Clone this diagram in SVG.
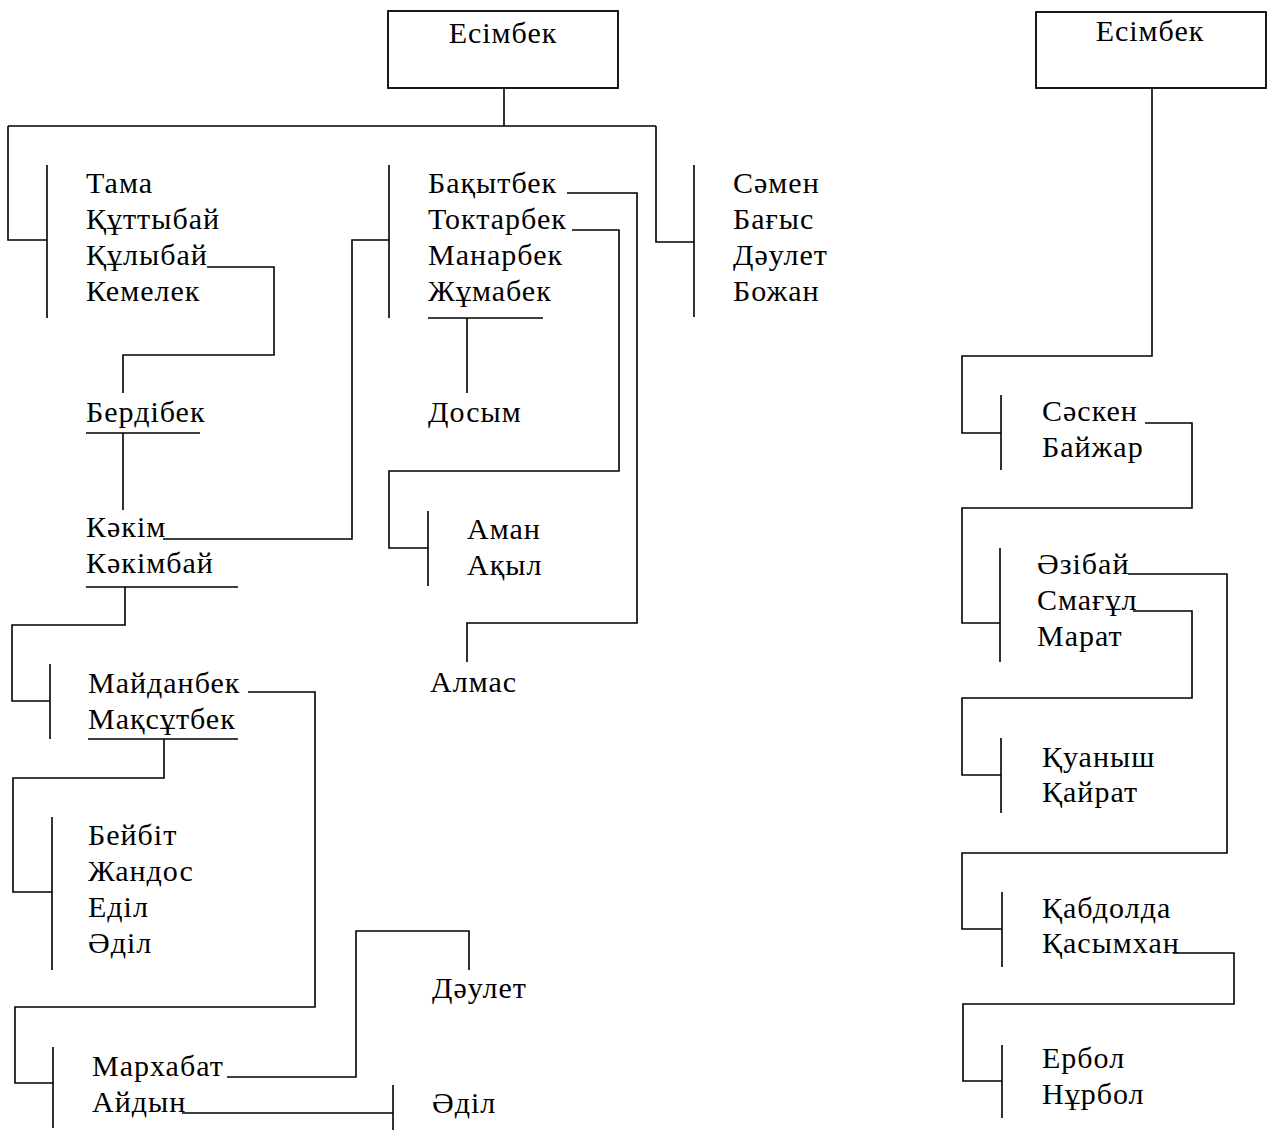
<svg xmlns="http://www.w3.org/2000/svg" width="1271" height="1130" viewBox="0 0 1271 1130">
<style>
text{font-family:"Liberation Serif","Times New Roman",serif;font-size:30px;letter-spacing:1px;fill:#000}
.c{text-anchor:middle}
.ln{fill:none;stroke:#000;stroke-width:1.6}
.bx{fill:#fff;stroke:#000;stroke-width:1.8}
</style>
<rect width="1271" height="1130" fill="#fff"/>
<g id="connectors" class="ln">
<path d="M504,88V126M8,126H656"/>
<path d="M8,126V240H47M47,165V318"/>
<path d="M389,165V318M389,240H352V539H163"/>
<path d="M656,126V242H694M694,165V317"/>
<path d="M207,267H274V355H123V393"/>
<path d="M86,433H200M123,433V510"/>
<path d="M86,587H238M125,587V625H12V701H50M50,664V739"/>
<path d="M248,692H315V1007H15V1083H53M53,1047V1128"/>
<path d="M88,739H238M164,739V778H13V892H52M52,817V970"/>
<path d="M567,193H637V623H467V662"/>
<path d="M572,230H619V471H389V548H428M428,511V586"/>
<path d="M428,318H543M467,318V393"/>
<path d="M227,1077H356V931H469V970"/>
<path d="M182,1113H393M393,1085V1130"/>
<path d="M1152,88V356H962V433H1001M1001,395V470"/>
<path d="M1145,423H1192V508H962V623H1000M1000,548V662"/>
<path d="M1128,574H1227V853H962V929H1002M1002,892V967"/>
<path d="M1133,611H1192V698H962V775H1001M1001,738V813"/>
<path d="M1173,953H1234V1004H963V1081H1002M1002,1045V1118"/>
</g>
<g id="root-left"><rect class="bx" x="388" y="11" width="230" height="77"/><text class="c" x="503" y="43">Есімбек</text></g>
<g id="root-right"><rect class="bx" x="1036" y="12" width="230" height="76"/><text class="c" x="1150" y="41">Есімбек</text></g>
<g id="g-tama"><text x="86" y="193">Тама</text><text x="86" y="229">Құттыбай</text><text x="86" y="265">Құлыбай</text><text x="86" y="301">Кемелек</text></g>
<g id="g-bakytbek"><text x="428" y="193">Бақытбек</text><text x="428" y="229">Токтарбек</text><text x="428" y="265">Манарбек</text><text x="428" y="301">Жұмабек</text></g>
<g id="g-samen"><text x="733" y="193">Сәмен</text><text x="733" y="229">Бағыс</text><text x="733" y="265">Дәулет</text><text x="733" y="301">Божан</text></g>
<g id="n-berdibek"><text x="86" y="422">Бердібек</text></g>
<g id="n-dosym"><text x="428" y="422">Досым</text></g>
<g id="g-kakim"><text x="86" y="537">Кәкім</text><text x="86" y="573">Кәкімбай</text></g>
<g id="g-aman"><text x="467" y="539">Аман</text><text x="467" y="575">Ақыл</text></g>
<g id="n-almas"><text x="430" y="692">Алмас</text></g>
<g id="g-maidanbek"><text x="88" y="693">Майданбек</text><text x="88" y="729">Мақсұтбек</text></g>
<g id="g-beibit"><text x="88" y="845">Бейбіт</text><text x="88" y="881">Жандос</text><text x="88" y="917">Еділ</text><text x="88" y="953">Әділ</text></g>
<g id="n-daulet"><text x="432" y="998">Дәулет</text></g>
<g id="g-markhabat"><text x="92" y="1076">Мархабат</text><text x="92" y="1112">Айдын</text></g>
<g id="n-adil"><text x="432" y="1113">Әділ</text></g>
<g id="g-saesken"><text x="1042" y="421">Сәскен</text><text x="1042" y="457">Байжар</text></g>
<g id="g-azibai"><text x="1037" y="574">Әзібай</text><text x="1037" y="610">Смағұл</text><text x="1037" y="646">Марат</text></g>
<g id="g-kuanysh"><text x="1042" y="767">Қуаныш</text><text x="1042" y="802">Қайрат</text></g>
<g id="g-kabdolda"><text x="1042" y="918">Қабдолда</text><text x="1042" y="953">Қасымхан</text></g>
<g id="g-erbol"><text x="1042" y="1068">Ербол</text><text x="1042" y="1104">Нұрбол</text></g>
</svg>
